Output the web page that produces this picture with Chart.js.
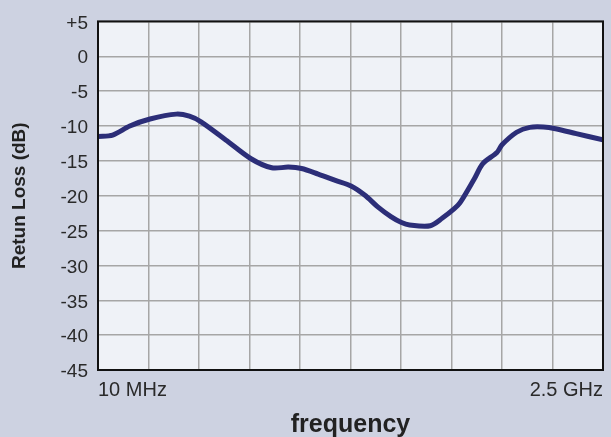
<!DOCTYPE html>
<html>
<head>
<meta charset="utf-8">
<script src="https://cdn.jsdelivr.net/npm/chart.js@4"></script>
<style>
  html, body { margin: 0; padding: 0; background: #cdd2e1; }
  #wrap { width: 611px; height: 437px; }
</style>
</head>
<body>
<div id="wrap"><canvas id="chart" width="611" height="437"></canvas></div>
<script>
// x is in grid divisions (0 = 10 MHz, 10 = 2.5 GHz)
const freqPos = [0, 0.29, 0.63, 1.03, 1.55, 1.81, 2.04, 2.53, 3.03, 3.44, 3.77, 4.03, 4.36, 4.70, 5.01, 5.28, 5.54, 5.80, 6.01, 6.17, 6.58, 6.82, 7.05, 7.17, 7.45, 7.62, 7.90, 8.00, 8.29, 8.55, 8.82, 9.06, 9.47, 10.0];
const returnLoss = [-11.5, -11.3, -10.0, -9.0, -8.3, -8.6, -9.4, -12.0, -14.7, -16.0, -15.9, -16.1, -16.9, -17.8, -18.6, -19.9, -21.6, -23.0, -23.85, -24.2, -24.3, -23.2, -21.9, -21.0, -17.6, -15.4, -13.8, -12.7, -10.9, -10.2, -10.15, -10.4, -11.1, -12.0];
const yTicks = [5, 0, -5, -10, -15, -20, -25, -30, -35, -40, -45];
const xEndLabels = ['10 MHz', '2.5 GHz'];

const points = freqPos.map((x, i) => ({ x, y: returnLoss[i] }));

// plot background + closed black frame
const frame = {
  id: 'frame',
  beforeDraw(chart) {
    const { ctx, chartArea: a } = chart;
    ctx.save();
    ctx.fillStyle = '#eff2f7';
    ctx.fillRect(a.left, a.top, a.right - a.left, a.bottom - a.top);
    ctx.restore();
  },
  afterDatasetsDraw(chart) {
    const { ctx, chartArea: a } = chart;
    ctx.save();
    ctx.strokeStyle = '#111';
    ctx.lineWidth = 2;
    ctx.strokeRect(a.left, a.top, a.right - a.left, a.bottom - a.top);
    ctx.restore();
  }
};

new Chart(document.getElementById('chart'), {
  type: 'line',
  data: {
    datasets: [{
      data: points,
      borderColor: '#2c2e78',
      borderWidth: 5,
      pointRadius: 0,
      tension: 0.3,
      fill: false
    }]
  },
  options: {
    responsive: false,
    animation: false,
    layout: { padding: { top: 17, right: 3, left: 0, bottom: 0 } },
    plugins: { legend: { display: false }, tooltip: { enabled: false } },
    scales: {
      x: {
        type: 'linear',
        min: 0,
        max: 10,
        afterFit: s => { s.height = 67; },
        ticks: {
          stepSize: 1,
          autoSkip: false,
          maxRotation: 0,
          align: 'inner',
          padding: 8,
          color: '#2a2a2a',
          font: { family: 'Liberation Sans, Arial, sans-serif', size: 20 },
          callback: v => v === 0 ? xEndLabels[0] : (v === 10 ? xEndLabels[1] : '')
        },
        grid: { color: '#a6a6a6', lineWidth: 1.5, drawTicks: false },
        border: { display: false },
        title: {
          display: true,
          text: 'frequency',
          color: '#222',
          padding: { top: 0, bottom: -3 },
          font: { family: 'Liberation Sans, Arial, sans-serif', size: 25, weight: 'bold' }
        }
      },
      y: {
        min: -45,
        max: 5,
        afterFit: s => { s.width = 98; },
        afterBuildTicks: s => { s.ticks = yTicks.map(v => ({ value: v })); },
        ticks: {
          padding: 10,
          labelOffset: 2,
          color: '#2a2a2a',
          font: { family: 'Liberation Sans, Arial, sans-serif', size: 19 },
          callback: v => v > 0 ? '+' + v : String(v)
        },
        grid: { color: '#a6a6a6', lineWidth: 1.5, drawTicks: false },
        border: { display: false },
        title: {
          display: true,
          text: 'Retun Loss (dB)',
          color: '#222',
          padding: { top: 8, bottom: 0 },
          font: { family: 'Liberation Sans, Arial, sans-serif', size: 19, weight: 'bold' }
        }
      }
    }
  },
  plugins: [frame]
});
</script>
</body>
</html>
